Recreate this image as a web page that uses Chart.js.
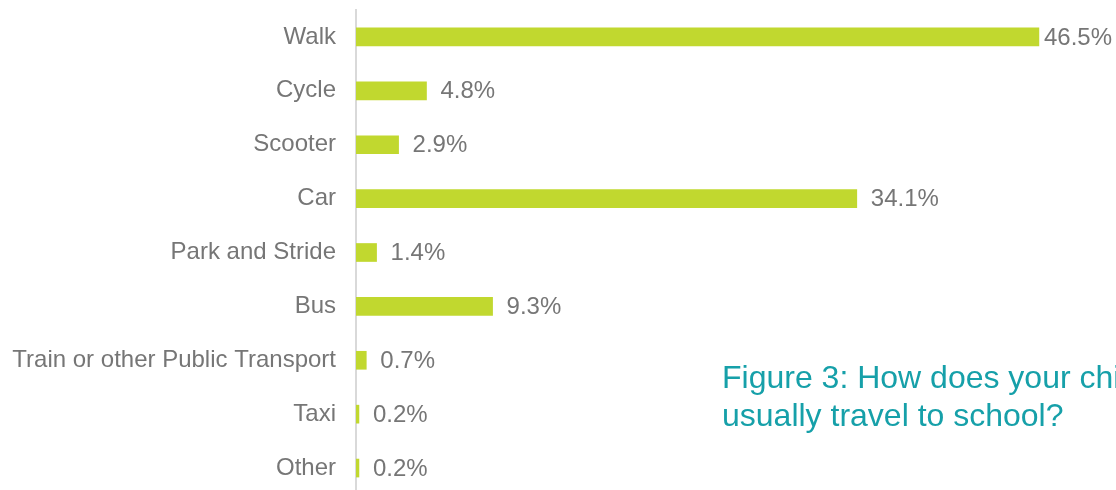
<!DOCTYPE html>
<html>
<head>
<meta charset="utf-8">
<script src="https://cdn.jsdelivr.net/npm/chart.js@4/dist/chart.umd.min.js"></script>
<style>
  html, body { margin: 0; padding: 0; background: #fff; overflow: hidden; }
  #wrap { position: relative; width: 1116px; height: 490px; overflow: hidden; }
  #caption {
    position: absolute; left: 722px; top: 358px;
    font-family: "Liberation Sans", Arial, sans-serif;
    font-size: 32px; line-height: 38px; color: #16a0a9;
    white-space: pre;
  }
</style>
</head>
<body>
<div id="wrap">
  <canvas id="myChart" width="1116" height="500"></canvas>
  <div id="caption">Figure 3: How does your child
usually travel to school?</div>
</div>
<script>
const categories = ["Walk", "Cycle", "Scooter", "Car", "Park and Stride", "Bus",
    "Train or other Public Transport", "Taxi", "Other"];
const shares = [46.5, 4.8, 2.9, 34.1, 1.4, 9.3, 0.7, 0.2, 0.2];

const labelFont = "24px 'Liberation Sans', Arial, sans-serif";
const grey = "#767676";

// value labels beside each bar, pulled back if they would run off the right edge
const valueLabels = {
    id: "valueLabels",
    afterDatasetsDraw(chart) {
        const ctx = chart.ctx;
        const meta = chart.getDatasetMeta(0);
        ctx.save();
        ctx.font = labelFont;
        ctx.fillStyle = grey;
        ctx.textBaseline = "middle";
        meta.data.forEach((bar, i) => {
            const txt = shares[i].toFixed(1) + "%";
            const w = ctx.measureText(txt).width;
            let x = bar.x + 14;
            if (x + w > chart.width - 4) x = chart.width - 4 - w;
            ctx.fillText(txt, x, bar.y + 1);
        });
        ctx.restore();
    }
};

const ctx = document.getElementById("myChart").getContext("2d");
new Chart(ctx, {
    type: "bar",
    data: {
        labels: categories,
        datasets: [{
            data: shares,
            backgroundColor: "#c1d82f",
            barThickness: 18
        }]
    },
    plugins: [valueLabels],
    options: {
        indexAxis: "y",
        responsive: false,
        animation: false,
        devicePixelRatio: 1,
        layout: { autoPadding: false, padding: { top: 10, bottom: 5, left: 0, right: 0 } },
        plugins: {
            legend: { display: false },
            tooltip: { enabled: false }
        },
        scales: {
            x: {
                display: false,
                min: 0,
                max: 51.75
            },
            y: {
                afterFit: s => { s.width = 356; s.paddingTop = 0; s.paddingBottom = 0; },
                grid: { display: false, drawTicks: false },
                border: { display: true, color: "#d9d9d9", width: 2 },
                ticks: {
                    padding: 20,
                    color: grey,
                    font: { family: "'Liberation Sans', Arial, sans-serif", size: 24 }
                }
            }
        }
    }
});
</script>
</body>
</html>
